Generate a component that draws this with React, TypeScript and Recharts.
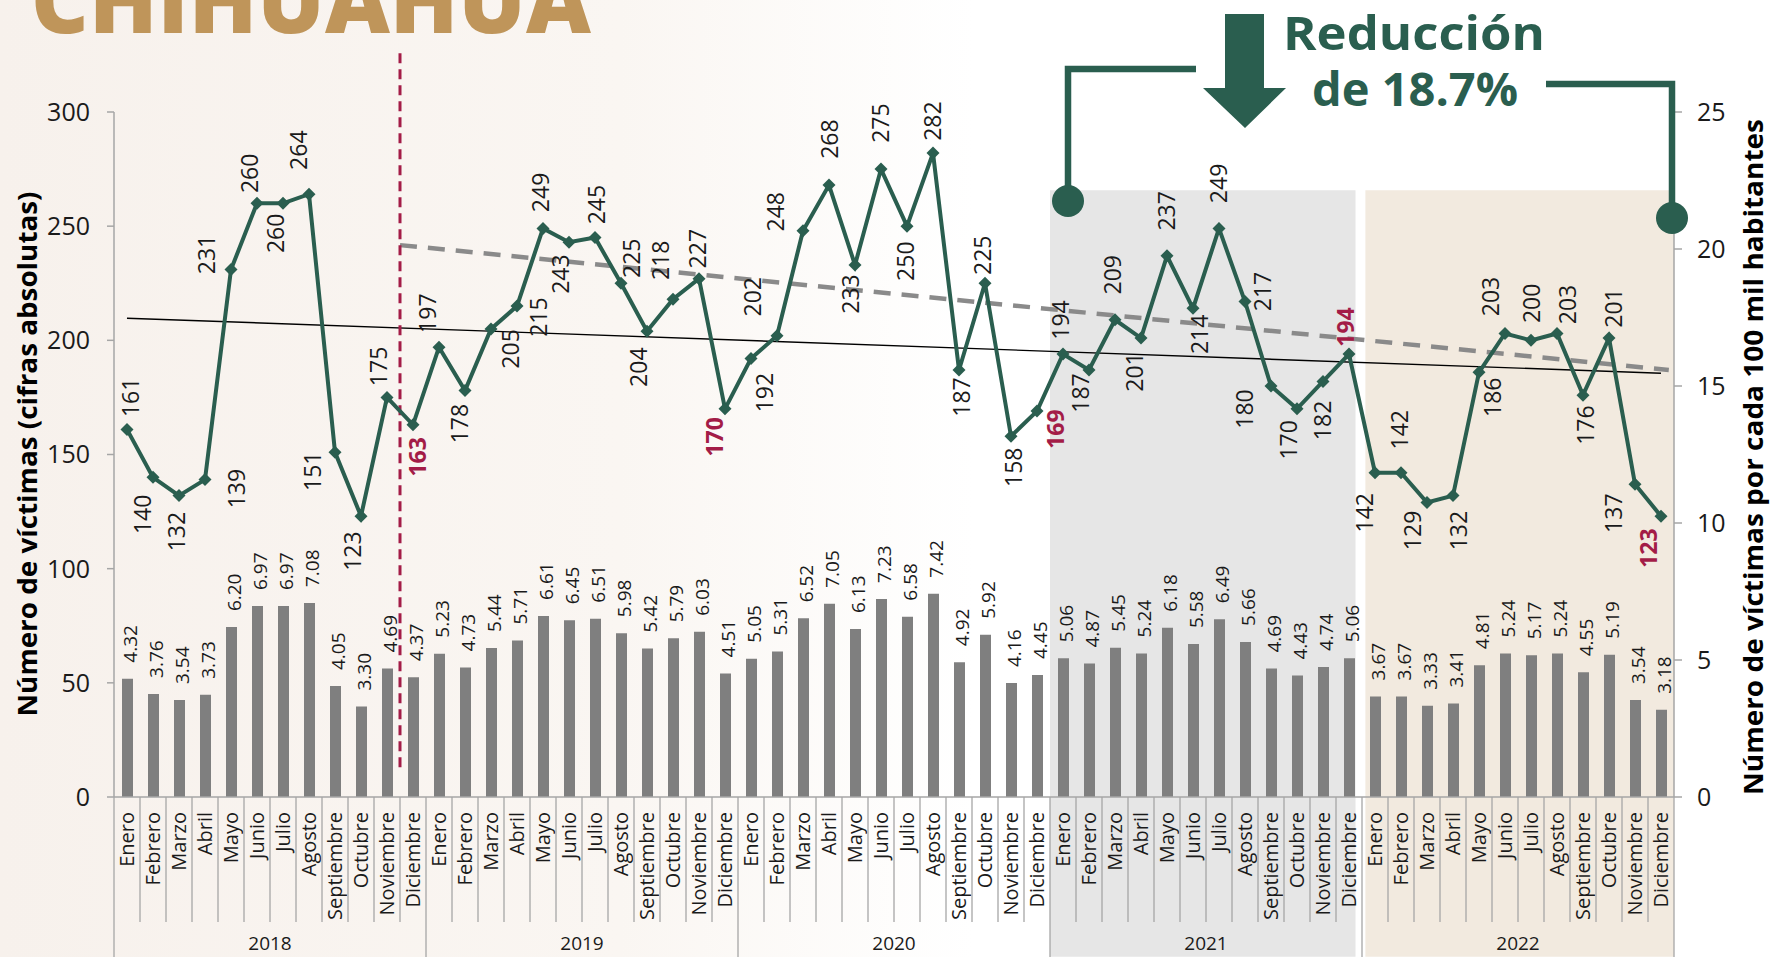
import React from 'react';
import {
  ComposedChart,
  Bar,
  Line,
  XAxis,
  YAxis,
  ReferenceArea,
  ReferenceLine,
  LabelList,
} from 'recharts';

const FONT = '"Open Sans", "DejaVu Sans", sans-serif';
const GREEN = '#2A5E4F';
const RED = '#A31C47';
const GOLD = '#BF955A';
const INK = '#1A1A1A';
const AXIS = '#A6A6A6';

const YEARS = ['2018', '2019', '2020', '2021', '2022'];
const MONTHS = [
  'Enero', 'Febrero', 'Marzo', 'Abril', 'Mayo', 'Junio',
  'Julio', 'Agosto', 'Septiembre', 'Octubre', 'Noviembre', 'Diciembre',
];

// número de víctimas (cifras absolutas)
const VICTIMS_2018 = [161, 140, 132, 139, 231, 260, 260, 264, 151, 123, 175, 163];
const VICTIMS_2019 = [197, 178, 205, 215, 249, 243, 245, 225, 204, 218, 227, 170];
const VICTIMS_2020 = [192, 202, 248, 268, 233, 275, 250, 282, 187, 225, 158, 169];
const VICTIMS_2021 = [194, 187, 209, 201, 237, 214, 249, 217, 180, 170, 182, 194];
const VICTIMS_2022 = [142, 142, 129, 132, 186, 203, 200, 203, 176, 201, 137, 123];

// víctimas por cada 100 mil habitantes
const RATE_2018 = [4.32, 3.76, 3.54, 3.73, 6.20, 6.97, 6.97, 7.08, 4.05, 3.30, 4.69, 4.37];
const RATE_2019 = [5.23, 4.73, 5.44, 5.71, 6.61, 6.45, 6.51, 5.98, 5.42, 5.79, 6.03, 4.51];
const RATE_2020 = [5.05, 5.31, 6.52, 7.05, 6.13, 7.23, 6.58, 7.42, 4.92, 5.92, 4.16, 4.45];
const RATE_2021 = [5.06, 4.87, 5.45, 5.24, 6.18, 5.58, 6.49, 5.66, 4.69, 4.43, 4.74, 5.06];
const RATE_2022 = [3.67, 3.67, 3.33, 3.41, 4.81, 5.24, 5.17, 5.24, 4.55, 5.19, 3.54, 3.18];

const LEFT_TICKS = [0, 50, 100, 150, 200, 250, 300];
const RIGHT_TICKS = [0, 5, 10, 15, 20, 25];

// trend lines in left-axis units
const TREND_ALL = [209.7, 185.6];
const TREND_DASHED = [241.7, 187];

const VICTIMS = [VICTIMS_2018, VICTIMS_2019, VICTIMS_2020, VICTIMS_2021, VICTIMS_2022];
const RATES = [RATE_2018, RATE_2019, RATE_2020, RATE_2021, RATE_2022];

const data = YEARS.flatMap((year, y) =>
  MONTHS.map((month, m) => ({
    key: `${month} ${year}`,
    idx: y * 12 + m,
    victims: VICTIMS[y][m],
    rate: RATES[y][m],
  }))
);

// where each line label sits relative to its point [dx, dy]
const LINE_LABEL_OFFSETS: [number, number][] = [
  [4, -32], [-10, 37], [-2, 36], [32, 9], [-24, -15], [-7, -30], [-7, 30], [-10, -44], [-22, 19], [-8, 35], [-8, -31], [5, 32],
  [-11, -34], [-5, 33], [20, 20], [22, 11], [-2, -36], [-8, 32], [2, -33], [11, -25], [-8, 36], [-12, -39], [-1, -30], [-10, 28],
  [14, 34], [-24, -39], [-27, -19], [1, -46], [-4, 29], [0, -46], [-1, 35], [0, -32], [3, 27], [-2, -28], [3, 31], [19, 18],
  [-2, -34], [-8, 23], [-2, -45], [-6, 34], [0, -45], [7, 26], [0, -45], [18, -10], [-26, 23], [-8, 31], [0, 39], [-3, -27],
  [-10, 40], [-1, -43], [-14, 28], [6, 35], [14, 25], [-14, -37], [1, -37], [11, -29], [3, 30], [5, -30], [-21, 29], [-12, 32],
];

function MonthTick(props: any) {
  const { x, y, payload } = props;
  const i: number = props.index ?? payload.index;
  const half = payload.offset || 13;
  const left = x - half;
  const yearStart = i % 12 === 0;
  return (
    <g>
      <line x1={left} y1={y} x2={left} y2={y + (yearStart ? 160 : 125)} stroke={AXIS} strokeWidth={1.3} />
      {i === data.length - 1 && (
        <line x1={x + half} y1={y} x2={x + half} y2={y + 160} stroke={AXIS} strokeWidth={1.3} />
      )}
      <text
        transform={`translate(${x},${y + 15}) rotate(-90)`}
        textAnchor="end"
        dy="0.35em"
        fontSize={20}
        fontFamily={FONT}
        fill={INK}
      >
        {MONTHS[i % 12]}
      </text>
      {i % 12 === 6 && (
        <text x={left} y={y + 153} textAnchor="middle" fontSize={19} fontFamily={FONT} fill={INK}>
          {YEARS[Math.floor(i / 12)]}
        </text>
      )}
    </g>
  );
}

function BarLabel(props: any) {
  const vb = props.viewBox || props;
  const x = Number(vb.x ?? props.x);
  const y = Number(vb.y ?? props.y);
  const w = Number(vb.width ?? props.width ?? 0);
  return (
    <text
      transform={`translate(${x + w / 2 + 3},${y - 16}) rotate(-90)`}
      textAnchor="start"
      dy="0.35em"
      fontSize={19}
      fontFamily={FONT}
      fill={INK}
    >
      {Number(props.value).toFixed(2)}
    </text>
  );
}

function LineLabel(props: any) {
  const vb = props.viewBox || props;
  const x = Number(vb.x ?? props.x);
  const y = Number(vb.y ?? props.y);
  const index: number = props.index;
  const [dx, dy] = LINE_LABEL_OFFSETS[index] || [0, -32];
  const dec = index % 12 === 11;
  return (
    <text
      transform={`translate(${x + dx},${y + dy}) rotate(-90)`}
      textAnchor="middle"
      dy="0.35em"
      fontSize={23}
      fontWeight={dec ? 700 : 400}
      fontFamily={FONT}
      fill={dec ? RED : INK}
    >
      {props.value}
    </text>
  );
}

function DiamondDot(props: any) {
  const { cx, cy, index } = props;
  if (cx == null || cy == null) return <g key={`d-${index}`} />;
  const r = 6.5;
  return (
    <path
      key={`d-${index}`}
      d={`M${cx},${cy - r}L${cx + r},${cy}L${cx},${cy + r}L${cx - r},${cy}Z`}
      fill={GREEN}
    />
  );
}

function Overlay() {
  return (
    <svg
      width={1770}
      height={957}
      style={{ position: 'absolute', left: 0, top: 0, pointerEvents: 'none' }}
    >
      <text x={31} y={33} fontSize={90} fontWeight={800} fontFamily={FONT} fill={GOLD}
        textLength={560} lengthAdjust="spacingAndGlyphs">
        CHIHUAHUA
      </text>

      <text transform="translate(28,454) rotate(-90)" textAnchor="middle" dy="0.35em"
        fontSize={27} fontWeight={700} fontFamily={FONT} fill="#000"
        textLength={525} lengthAdjust="spacingAndGlyphs">
        Número de víctimas (cifras absolutas)
      </text>
      <text transform="translate(1754,457) rotate(-90)" textAnchor="middle" dy="0.35em"
        fontSize={27} fontWeight={700} fontFamily={FONT} fill="#000"
        textLength={676} lengthAdjust="spacingAndGlyphs">
        Número de víctimas por cada 100 mil habitantes
      </text>

      <polygon points="1225,14 1264,14 1264,88 1286,88 1245,128 1203,88 1225,88" fill={GREEN} />
      <text x={1283} y={50} fontSize={47} fontWeight={700} fontFamily={FONT} fill={GREEN}
        textLength={262} lengthAdjust="spacingAndGlyphs">
        Reducción
      </text>
      <text x={1312} y={106} fontSize={47} fontWeight={700} fontFamily={FONT} fill={GREEN}
        textLength={206} lengthAdjust="spacingAndGlyphs">
        de 18.7%
      </text>

      <path d="M1196,69 H1068 V201" fill="none" stroke={GREEN} strokeWidth={6.5} />
      <circle cx={1068} cy={201} r={16} fill={GREEN} />
      <path d="M1546,84 H1672 V218" fill="none" stroke={GREEN} strokeWidth={6.5} />
      <circle cx={1672} cy={218} r={16} fill={GREEN} />
    </svg>
  );
}

export default function App() {
  return (
    <div
      style={{
        position: 'fixed',
        left: 0,
        top: 0,
        width: 1770,
        height: 957,
        overflow: 'hidden',
        fontFamily: FONT,
        background: 'linear-gradient(90deg, #F7F1EC 0%, #FAF6F2 35%, #FFFFFF 55%)',
      }}
    >
      <ComposedChart
        width={1770}
        height={957}
        data={data}
        margin={{ top: 112, right: 40, bottom: 0, left: 40 }}
      >
        <ReferenceArea xAxisId="num" yAxisId="left" x1={36} x2={47.75} y1={-70} y2={265.7}
          fill="#E6E6E6" fillOpacity={1} stroke="none" ifOverflow="visible" />
        <ReferenceArea xAxisId="num" yAxisId="left" x1={48.13} x2={60} y1={-70} y2={265.7}
          fill="#F2EADF" fillOpacity={1} stroke="none" ifOverflow="visible" />

        <XAxis
          xAxisId="cat"
          dataKey="key"
          interval={0}
          height={160}
          tickLine={false}
          tickSize={0}
          tickMargin={0}
          axisLine={{ stroke: AXIS, strokeWidth: 1.5 }}
          tick={(p: any) => <MonthTick {...p} />}
        />
        <XAxis xAxisId="num" dataKey="idx" type="number" domain={[0, 60]} allowDataOverflow hide />
        <YAxis
          yAxisId="left"
          domain={[0, 300]}
          ticks={LEFT_TICKS}
          width={74}
          tickSize={7}
          tickMargin={17}
          axisLine={{ stroke: AXIS, strokeWidth: 1.5 }}
          tickLine={{ stroke: AXIS, strokeWidth: 1.5 }}
          tick={{ fontSize: 25, fill: INK, fontFamily: FONT }}
        />
        <YAxis
          yAxisId="right"
          orientation="right"
          domain={[0, 25]}
          ticks={RIGHT_TICKS}
          width={56}
          tickSize={8}
          tickMargin={15}
          axisLine={{ stroke: AXIS, strokeWidth: 1.5 }}
          tickLine={{ stroke: AXIS, strokeWidth: 1.5 }}
          tick={{ fontSize: 25, fill: INK, fontFamily: FONT }}
        />

        <Bar xAxisId="cat" yAxisId="right" dataKey="rate" fill="#7F7F7F" barSize={11}
          isAnimationActive={false}>
          <LabelList dataKey="rate" content={BarLabel} />
        </Bar>

        <ReferenceLine
          xAxisId="num"
          yAxisId="left"
          segment={[{ x: 0.5, y: TREND_ALL[0] }, { x: 59.5, y: TREND_ALL[1] }]}
          stroke="#000"
          strokeWidth={1.4}
          ifOverflow="visible"
        />
        <ReferenceLine
          xAxisId="num"
          yAxisId="left"
          segment={[{ x: 11, y: TREND_DASHED[0] }, { x: 59.8, y: TREND_DASHED[1] }]}
          stroke="#8A8A8A"
          strokeWidth={4.5}
          strokeDasharray="17 11"
          ifOverflow="visible"
        />
        <ReferenceLine
          xAxisId="num"
          yAxisId="left"
          segment={[{ x: 11, y: 325.7 }, { x: 11, y: 10.5 }]}
          stroke={RED}
          strokeWidth={3}
          strokeDasharray="10 6"
          ifOverflow="visible"
        />

        <Line
          xAxisId="cat"
          yAxisId="left"
          dataKey="victims"
          stroke={GREEN}
          strokeWidth={4}
          dot={DiamondDot}
          activeDot={false}
          isAnimationActive={false}
        >
          <LabelList dataKey="victims" content={LineLabel} />
        </Line>
      </ComposedChart>
      <Overlay />
    </div>
  );
}
